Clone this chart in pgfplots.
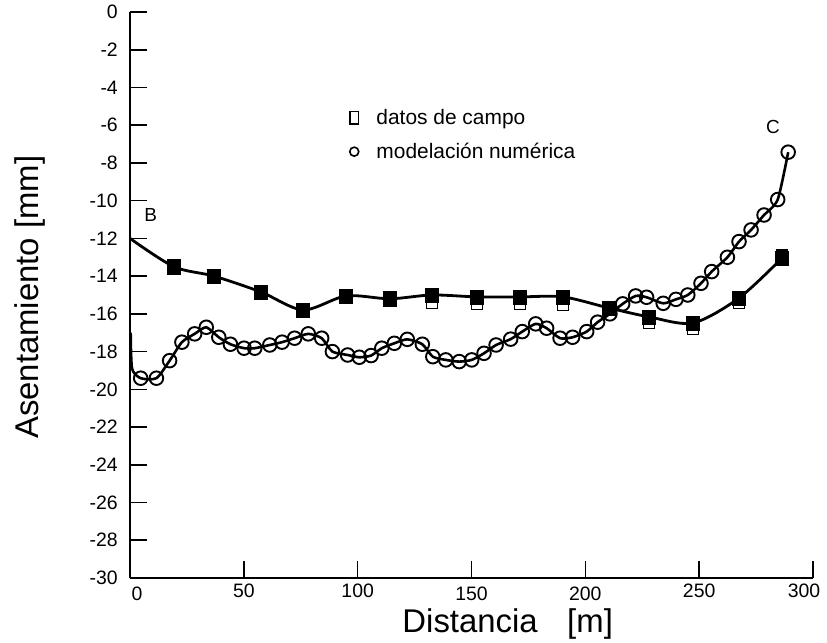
\documentclass[border=0pt]{standalone}
\usepackage{fontspec}
\setmainfont{Liberation Sans}
\usepackage{pgfplots}
\pgfplotsset{compat=1.18}
\begin{document}
\begin{tikzpicture}
\begin{axis}[name=ax, scale only axis, width=683bp, height=566bp,
  xmin=0, xmax=300, ymin=-30, ymax=0,
  axis x line=bottom, axis y line=left,
  axis line style={-, line width=1.6bp, black},
  xtick={0,50,...,300}, ytick={-30,-28,...,0},
  xticklabels={\hspace*{14bp}\raisebox{-3bp}{0},50,100,\raisebox{-3bp}{150},\raisebox{-3bp}{200},250,300\hspace*{18bp}},
  tick align=inside, major tick length=17bp,
  tick style={line width=1.6bp, black},
  /pgf/number format/assume math mode=true,
  ticklabel style={font=\fontsize{19.5}{21}\selectfont},
  xticklabel style={text height=14bp, text depth=0bp, inner sep=0bp, yshift=-5bp},
  yticklabel style={inner sep=0bp, xshift=-12bp},
  xlabel={Distancia\hspace{0.9em}[m]},
  ylabel={Asentamiento [mm]},
  label style={font=\fontsize{33}{37}\selectfont},
  xlabel style={at={(axis description cs:0.553,-0.082)}, anchor=center},
  ylabel style={at={(axis description cs:-0.146,0.496)}, anchor=center},
  legend style={at={(axis cs:93.5,-4.95)}, anchor=north west, draw=none, fill=none,
    font=\fontsize{21}{23}\selectfont, row sep=13bp},
  legend cell align=left,
  clip=false,
]
\addlegendimage{legend image code/.code={\draw[only marks, mark=square, mark size=5.5bp, mark options={xscale=0.75, yscale=1.15, line width=1.6bp, black}] plot coordinates {(0bp,0bp)}; \path (-8bp,0bp) (20bp,0bp);}}
\addlegendentry{datos de campo}
\addlegendimage{legend image code/.code={\draw[only marks, mark=o, mark size=4.5bp, mark options={line width=1.6bp, black}] plot coordinates {(0bp,0bp)}; \path (-8bp,0bp) (20bp,0bp);}}
\addlegendentry{modelación numérica}

% field data curve
\addplot[forget plot, black, line width=2.8bp, smooth, tension=0.5] coordinates {
(0,-12) (19.3,-13.5) (36.9,-14.0) (57.5,-14.84) (76,-15.79) (94.9,-15.05) (114.2,-15.2)
(132.6,-15.0) (152.4,-15.1) (171.3,-15.1) (190.2,-15.1) (210.4,-15.69) (228,-16.16)
(247.3,-16.48) (267.5,-15.16) (286.4,-13.04)};
% open squares
\addplot[forget plot, only marks, mark=square*, mark size=5.5bp, mark options={fill=white, draw=black, line width=1.5bp}] coordinates {
(132.6,-15.42) (152.4,-15.47) (171.3,-15.47) (190.2,-15.53) (228,-16.48) (247.3,-16.8) (267.5,-15.42) (286.4,-12.9)};
% filled squares
\addplot[forget plot, only marks, mark=square*, mark size=6.5bp, mark options={fill=black, draw=black, yscale=1.1}] coordinates {
(19.3,-13.5) (36.9,-14.0) (57.5,-14.84) (76,-15.79) (94.9,-15.05) (114.2,-15.2)
(132.6,-15.0) (152.4,-15.1) (171.3,-15.1) (190.2,-15.1) (210.4,-15.69) (228,-16.16)
(247.3,-16.48) (267.5,-15.16) (286.4,-13.04)};

% numerical model curve
\addplot[forget plot, black, line width=2.6bp, smooth, tension=0.4] coordinates {
(0.3,-17.0) (0.9,-18.9) (4.7,-19.41) (11.6,-19.41) (17.4,-18.48) (22.8,-17.50) (28.4,-17.06)
(33.5,-16.71) (39.0,-17.24) (44.1,-17.61) (50.1,-17.82) (54.8,-17.82) (61.4,-17.65)
(66.8,-17.50) (72.3,-17.29) (78.3,-17.06) (84.2,-17.29) (88.9,-18.00) (95.6,-18.18)
(100.7,-18.30) (105.9,-18.21) (110.6,-17.82) (116.1,-17.56) (121.8,-17.35) (128.4,-17.61)
(133.0,-18.27) (138.7,-18.44) (144.6,-18.53) (150.1,-18.44) (155.5,-18.09) (160.8,-17.65)
(167.2,-17.34) (172.3,-16.94) (178.2,-16.53) (183.0,-16.76) (188.9,-17.29) (194.4,-17.24)
(200.6,-16.94) (205.4,-16.44) (210.8,-16.00) (216.4,-15.47) (222.1,-15.05) (226.9,-15.12)
(234.2,-15.44) (239.8,-15.23) (245.0,-15.00) (250.8,-14.38) (255.5,-13.76) (262.4,-13.0)
(267.5,-12.17) (272.8,-11.55) (278.5,-10.76) (284.5,-9.94) (289.1,-7.43)};
% circles
\addplot[forget plot, only marks, mark=o, mark size=6.8bp, mark options={draw=black, line width=1.9bp}] coordinates {
(4.7,-19.41) (11.6,-19.41) (17.4,-18.48) (22.8,-17.50) (28.4,-17.06)
(33.5,-16.71) (39.0,-17.24) (44.1,-17.61) (50.1,-17.82) (54.8,-17.82) (61.4,-17.65)
(66.8,-17.50) (72.3,-17.29) (78.3,-17.06) (84.2,-17.29) (88.9,-18.00) (95.6,-18.18)
(100.7,-18.30) (105.9,-18.21) (110.6,-17.82) (116.1,-17.56) (121.8,-17.35) (128.4,-17.61)
(133.0,-18.27) (138.7,-18.44) (144.6,-18.53) (150.1,-18.44) (155.5,-18.09) (160.8,-17.65)
(167.2,-17.34) (172.3,-16.94) (178.2,-16.53) (183.0,-16.76) (188.9,-17.29) (194.4,-17.24)
(200.6,-16.94) (205.4,-16.44) (210.8,-16.00) (216.4,-15.47) (222.1,-15.05) (226.9,-15.12)
(234.2,-15.44) (239.8,-15.23) (245.0,-15.00) (250.8,-14.38) (255.5,-13.76) (262.4,-13.0)
(267.5,-12.17) (272.8,-11.55) (278.5,-10.76) (284.5,-9.94) (289.1,-7.43)};

\node[font=\fontsize{19}{21}\selectfont] at (axis cs:9.1,-10.76) {B};
\node[font=\fontsize{19}{21}\selectfont] at (axis cs:282.4,-6.09) {C};
\end{axis}
\pgfresetboundingbox
\path[use as bounding box] ([xshift=-130bp,yshift=578bp]ax.south west) rectangle ([xshift=697bp,yshift=-65bp]ax.south west);
\end{tikzpicture}
\end{document}
